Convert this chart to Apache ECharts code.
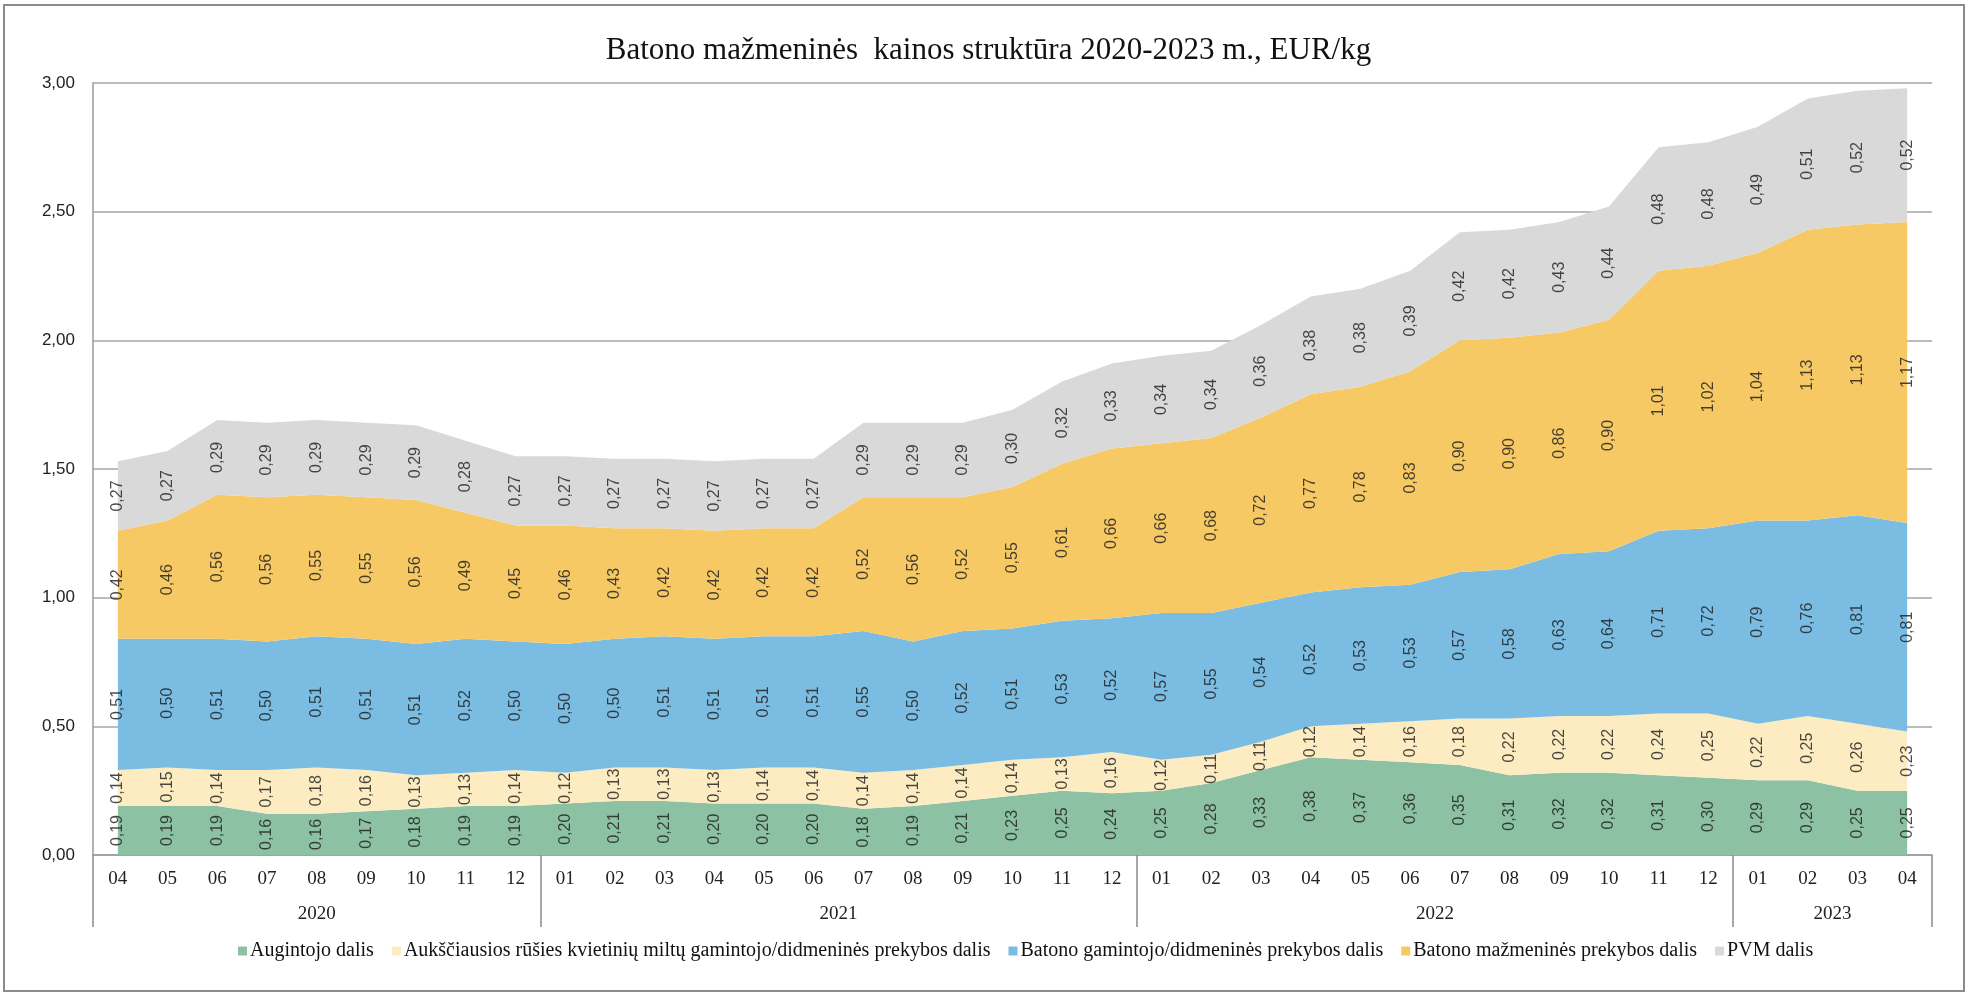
<!DOCTYPE html>
<html>
<head>
<meta charset="utf-8">
<script src="https://cdn.jsdelivr.net/npm/echarts@6/dist/echarts.min.js"></script>
<style>
html,body{margin:0;padding:0;background:#fff;}
#chart{width:1977px;height:1001px;}
</style>
</head>
<body>
<div id="chart"></div>
<script>
// ---- Data ----
const months = ['04','05','06','07','08','09','10','11','12',
  '01','02','03','04','05','06','07','08','09','10','11','12',
  '01','02','03','04','05','06','07','08','09','10','11','12',
  '01','02','03','04'];
const years = ['2020','2021','2022','2023'];
const monthsPerYear = [9, 12, 12, 4];

const seriesNames = [
  'Augintojo dalis',
  'Aukščiausios rūšies kvietinių miltų gamintojo/didmeninės prekybos dalis',
  'Batono gamintojo/didmeninės prekybos dalis',
  'Batono mažmeninės prekybos dalis',
  'PVM dalis'
];

const augintojo = [0.19,0.19,0.19,0.16,0.16,0.17,0.18,0.19,0.19,
  0.20,0.21,0.21,0.20,0.20,0.20,0.18,0.19,0.21,0.23,0.25,0.24,
  0.25,0.28,0.33,0.38,0.37,0.36,0.35,0.31,0.32,0.32,0.31,0.30,
  0.29,0.29,0.25,0.25];
const miltu = [0.14,0.15,0.14,0.17,0.18,0.16,0.13,0.13,0.14,
  0.12,0.13,0.13,0.13,0.14,0.14,0.14,0.14,0.14,0.14,0.13,0.16,
  0.12,0.11,0.11,0.12,0.14,0.16,0.18,0.22,0.22,0.22,0.24,0.25,
  0.22,0.25,0.26,0.23];
const gamintojo = [0.51,0.50,0.51,0.50,0.51,0.51,0.51,0.52,0.50,
  0.50,0.50,0.51,0.51,0.51,0.51,0.55,0.50,0.52,0.51,0.53,0.52,
  0.57,0.55,0.54,0.52,0.53,0.53,0.57,0.58,0.63,0.64,0.71,0.72,
  0.79,0.76,0.81,0.81];
const mazmenines = [0.42,0.46,0.56,0.56,0.55,0.55,0.56,0.49,0.45,
  0.46,0.43,0.42,0.42,0.42,0.42,0.52,0.56,0.52,0.55,0.61,0.66,
  0.66,0.68,0.72,0.77,0.78,0.83,0.90,0.90,0.86,0.90,1.01,1.02,
  1.04,1.13,1.13,1.17];
const pvm = [0.27,0.27,0.29,0.29,0.29,0.29,0.29,0.28,0.27,
  0.27,0.27,0.27,0.27,0.27,0.27,0.29,0.29,0.29,0.30,0.32,0.33,
  0.34,0.34,0.36,0.38,0.38,0.39,0.42,0.42,0.43,0.44,0.48,0.48,
  0.49,0.51,0.52,0.52];

const yTicks = {min: 0, max: 3, interval: 0.5};

// ---- Build ----
const allSeries = [augintojo, miltu, gamintojo, mazmenines, pvm];
const colors = ['#8cc2a3', '#fdecc2', '#7bbde2', '#f6c965', '#d9d9d9'];

const fmt = v => v.toFixed(2).replace('.', ',');

// Year axis: half-month positions (boundaryGap false)
const yearAxisData = [];
const yearBoundaryIdx = new Set([0]);
const yearCenterIdx = {};
{
  let start = 0;
  for (let k = 0; k < years.length; k++) {
    const end = start + monthsPerYear[k];
    yearBoundaryIdx.add(2 * end);
    yearCenterIdx[start + end] = years[k];
    start = end;
  }
  for (let j = 0; j <= 2 * months.length; j++) yearAxisData.push(yearCenterIdx[j] || '');
}

const series = [];
allSeries.forEach((arr, s) => {
  series.push({
    name: seriesNames[s],
    type: 'line',
    stack: 'total',
    data: arr,
    xAxisIndex: 0,
    showSymbol: false,
    symbol: 'none',
    lineStyle: {width: 0},
    itemStyle: {color: colors[s]},
    areaStyle: {color: colors[s], opacity: 1},
    z: 2
  });
});
// label series placed at the middle of each band
allSeries.forEach((arr, s) => {
  const pts = arr.map((v, i) => {
    let base = 0;
    for (let t = 0; t < s; t++) base += allSeries[t][i];
    return {value: [i, base + v / 2], raw: v};
  });
  series.push({
    type: 'scatter',
    name: 'lbl' + s,
    xAxisIndex: 0,
    data: pts,
    symbolSize: 1,
    itemStyle: {color: 'rgba(0,0,0,0)'},
    silent: true,
    z: 5,
    label: {
      show: true,
      position: 'inside',
      rotate: 90,
      align: 'center',
      verticalAlign: 'middle',
      fontFamily: 'Liberation Sans',
      fontSize: 16,
      color: '#1a1a1a',
      formatter: p => fmt(p.data.raw)
    }
  });
});

const chart = echarts.init(document.getElementById('chart'), null, {renderer: 'canvas'});
chart.setOption({
  animation: false,
  backgroundColor: '#fff',
  title: {
    text: 'Batono mažmeninės  kainos struktūra 2020-2023 m., EUR/kg',
    left: 'center',
    top: 30,
    textStyle: {fontFamily: 'Liberation Serif', fontSize: 31, fontWeight: 'normal', color: '#111'}
  },
  grid: {left: 93, right: 45, top: 83, bottom: 146, containLabel: false},
  legend: {
    data: seriesNames,
    left: 233,
    top: 936,
    icon: 'rect',
    itemWidth: 9,
    itemHeight: 9,
    itemGap: 18,
    textStyle: {fontFamily: 'Liberation Serif', fontSize: 20, color: '#111', padding: [0, 0, 0, -2]}
  },
  xAxis: [
    {
      type: 'category',
      data: months,
      boundaryGap: true,
      position: 'bottom',
      axisLine: {show: true, lineStyle: {color: '#9a9a9a', width: 1.5}},
      axisTick: {show: false},
      axisLabel: {interval: 0, margin: 15, fontFamily: 'Liberation Serif', fontSize: 19, color: '#222'},
      splitLine: {show: false}
    },
    {
      type: 'category',
      data: yearAxisData,
      boundaryGap: false,
      position: 'bottom',
      axisLine: {show: false},
      axisTick: {
        show: true,
        length: 72,
        interval: (idx) => yearBoundaryIdx.has(idx),
        lineStyle: {color: '#8a8a8a', width: 1.5}
      },
      axisLabel: {
        interval: (idx) => yearCenterIdx[idx] !== undefined,
        margin: 50,
        fontFamily: 'Liberation Serif',
        fontSize: 19,
        color: '#222'
      },
      splitLine: {show: false}
    }
  ],
  yAxis: {
    type: 'value',
    min: yTicks.min,
    max: yTicks.max,
    interval: yTicks.interval,
    axisLine: {show: true, lineStyle: {color: '#9a9a9a', width: 1.5}},
    axisTick: {show: false},
    axisLabel: {margin: 18, fontFamily: 'Liberation Sans', fontSize: 17, color: '#222', formatter: v => fmt(v)},
    splitLine: {show: true, lineStyle: {color: '#a6a6a6', width: 1.5}}
  },
  graphic: [{
    type: 'rect',
    shape: {x: 4, y: 5, width: 1960, height: 986},
    style: {fill: 'none', stroke: '#8c8c8c', lineWidth: 2},
    silent: true,
    z: -1
  }],
  series: series
});
</script>
</body>
</html>
